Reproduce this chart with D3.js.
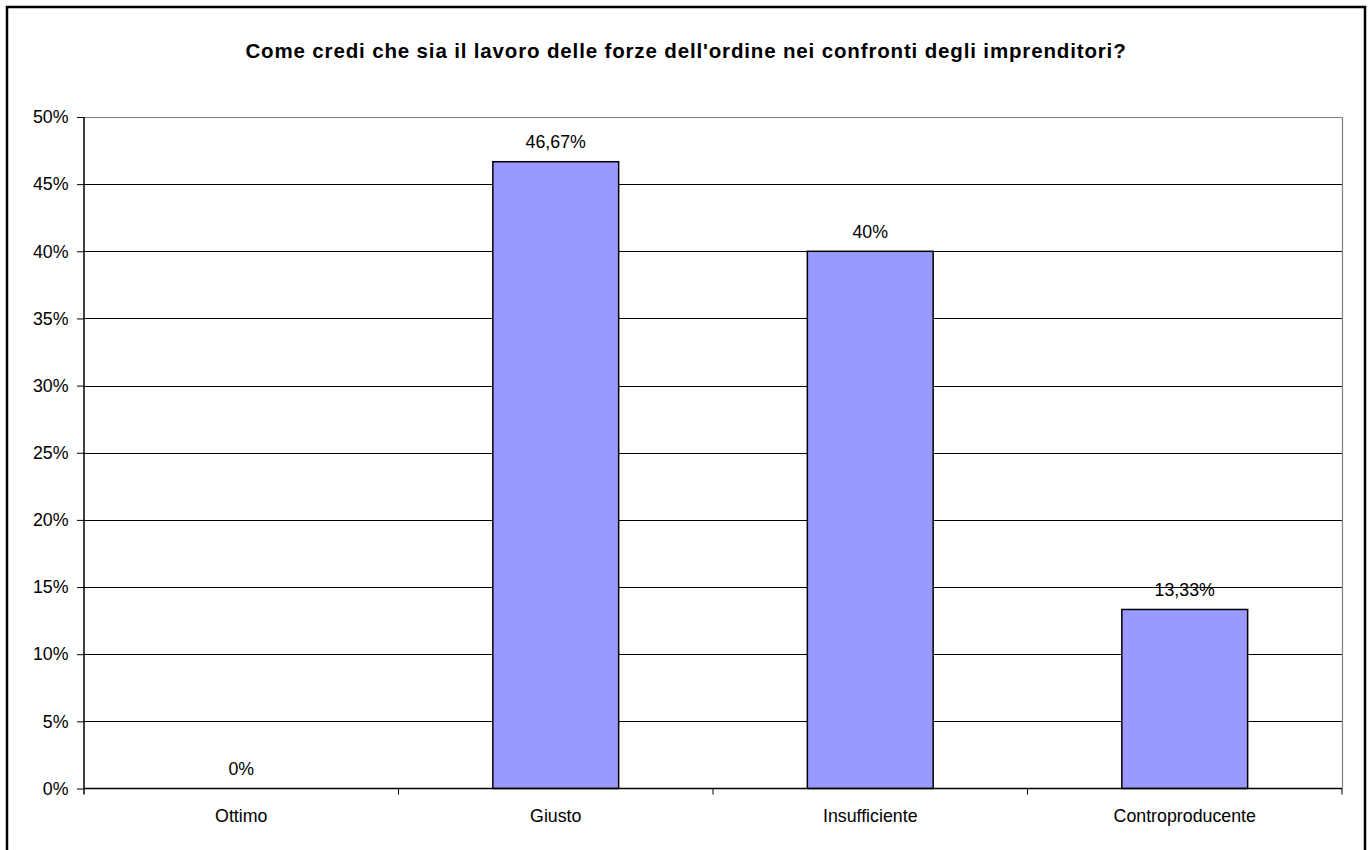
<!DOCTYPE html>
<html>
<head>
<meta charset="utf-8">
<script src="https://cdn.jsdelivr.net/npm/d3@7"></script>
<style>
  html, body { margin: 0; padding: 0; background: #fff; }
  svg { display: block; }
  text { font-family: Arial, "Liberation Sans", sans-serif; fill: #000; }
</style>
</head>
<body>
<svg id="chart" width="1372" height="850"></svg>
<script>
// Survey answers and their percentages
const categories = ["Ottimo", "Giusto", "Insufficiente", "Controproducente"];
const values = [0, 46.67, 40, 13.33];
const yTicks = [0, 5, 10, 15, 20, 25, 30, 35, 40, 45, 50];
const title = "Come credi che sia il lavoro delle forze dell'ordine nei confronti degli imprenditori?";

const svg = d3.select("#chart");
const plot = { left: 84, right: 1342, top: 117, bottom: 788.5 };
const labelSize = "17.8px";

const fmt = v => String(v).replace(".", ",") + "%";

// Outer chart frame
svg.append("rect")
  .attr("x", 7).attr("y", 7)
  .attr("width", 1358).attr("height", 900)
  .attr("fill", "none").attr("stroke", "#000").attr("stroke-width", 2.5);

// Title
svg.append("text")
  .attr("x", (7 + 1365) / 2).attr("y", 58)
  .attr("text-anchor", "middle")
  .style("font-weight", "bold").style("font-size", "20.5px")
  .style("letter-spacing", "0.85px")
  .text(title);

const x = d3.scaleBand().domain(categories).range([plot.left, plot.right]).paddingInner(0).paddingOuter(0);
const y = d3.scaleLinear().domain([0, 50]).range([plot.bottom, plot.top]);

// Horizontal gridlines
svg.append("g").selectAll("line")
  .data(yTicks.filter(t => t > 0 && t < 50))
  .join("line")
  .attr("x1", plot.left).attr("x2", plot.right)
  .attr("y1", d => Math.round(y(d)) + 0.5).attr("y2", d => Math.round(y(d)) + 0.5)
  .attr("stroke", "#000").attr("stroke-width", 1);

// Plot area border (top and right) in grey
svg.append("path")
  .attr("d", `M${plot.left},${plot.top + 0.5}H${plot.right + 0.5}V${plot.bottom}`)
  .attr("fill", "none").attr("stroke", "#808080").attr("stroke-width", 1.2);

// Bars
const barW = x.bandwidth() * 0.4;
const rows = values.map((v, i) => ({ c: categories[i], v }));
svg.append("g").selectAll("rect")
  .data(rows)
  .join("rect")
  .attr("x", d => x(d.c) + (x.bandwidth() - barW) / 2)
  .attr("y", d => y(d.v))
  .attr("width", barW)
  .attr("height", d => y(0) - y(d.v))
  .attr("fill", "#9999FF")
  .attr("stroke", d => d.v > 0 ? "#000" : "none")
  .attr("stroke-width", 1.5);

// Value labels
svg.append("g").selectAll("text")
  .data(rows)
  .join("text")
  .attr("x", d => x(d.c) + x.bandwidth() / 2)
  .attr("y", d => y(d.v) - 13.5)
  .attr("text-anchor", "middle")
  .style("font-size", labelSize)
  .text(d => fmt(d.v));

// Y axis
const yAxis = d3.axisLeft(y).tickValues(yTicks).tickSize(7).tickPadding(8.5)
  .tickFormat(d => d + "%");
const gy = svg.append("g").attr("transform", `translate(${plot.left},0)`).call(yAxis);
gy.select(".domain").attr("d", `M0,${plot.top}V${plot.bottom + 6}`).attr("stroke", "#000").attr("stroke-width", 1.5);
gy.selectAll(".tick line").attr("stroke", "#000");
gy.selectAll(".tick text").style("font-size", labelSize).style("font-family", "Arial, 'Liberation Sans', sans-serif");

// X axis line and category boundary ticks
svg.append("line")
  .attr("x1", plot.left).attr("x2", plot.right)
  .attr("y1", plot.bottom).attr("y2", plot.bottom)
  .attr("stroke", "#000").attr("stroke-width", 1.5);
const bounds = categories.map(c => x(c)).concat([plot.right]);
svg.append("g").selectAll("line")
  .data(bounds.slice(1))
  .join("line")
  .attr("x1", d => d).attr("x2", d => d)
  .attr("y1", plot.bottom).attr("y2", plot.bottom + 6)
  .attr("stroke", "#000").attr("stroke-width", 1);

// Category labels
svg.append("g").selectAll("text")
  .data(categories)
  .join("text")
  .attr("x", d => x(d) + x.bandwidth() / 2)
  .attr("y", plot.bottom + 33.5)
  .attr("text-anchor", "middle")
  .style("font-size", labelSize)
  .text(d => d);
</script>
</body>
</html>
